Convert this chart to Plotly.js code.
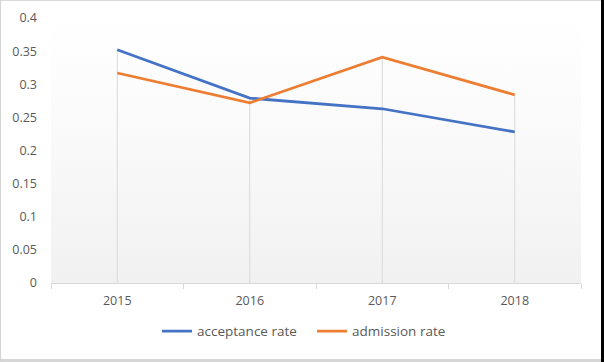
<!DOCTYPE html>
<html><head><meta charset="utf-8">
<script src="https://cdn.plot.ly/plotly-3.0.1.min.js"></script>
<style>
html,body{margin:0;padding:0;background:#fff;}
#wrap{position:relative;width:604px;height:362px;overflow:hidden;}
#grad{position:absolute;left:51px;top:18px;width:530px;height:265px;background:linear-gradient(to bottom,#ffffff 0%,#f9f9f9 50%,#f1f1f1 100%);}
#chart{position:absolute;left:0;top:0;width:604px;height:362px;}
#frame{position:absolute;left:0;top:0;width:600px;height:358px;border-left:1px solid #d4d4d4;border-top:1px solid #d9d9d9;border-right:1px solid #c8c8c8;border-bottom:3px solid #d6d6d6;pointer-events:none;}
#blk{position:absolute;left:601px;top:0;width:3px;height:362px;background:#000;}
</style></head>
<body>
<div id="wrap"><div id="grad"></div><div id="chart"></div><div id="frame"></div><div id="blk"></div></div>
<script>
const years = ['2015','2016','2017','2018'];
const acceptanceRate = [0.352, 0.279, 0.263, 0.228];
const admissionRate = [0.317, 0.272, 0.341, 0.284];
const yTicks = [0,0.05,0.1,0.15,0.2,0.25,0.3,0.35,0.4];
const yTickText = ['0','0.05','0.1','0.15','0.2','0.25','0.3','0.35','0.4'];

// drop lines from the higher point of each category down to the axis
const dx = [], dy = [];
years.forEach((y,i)=>{ dx.push(y,y,null); dy.push(Math.max(acceptanceRate[i],admissionRate[i]),0,null); });

const traces = [
  {x:dx,y:dy,mode:'lines',line:{color:'#d9d9d9',width:1},hoverinfo:'skip',showlegend:false},
  {x:years,y:acceptanceRate,name:'acceptance rate',mode:'lines',line:{color:'#4472C4',width:2.75}},
  {x:years,y:admissionRate,name:'admission rate',mode:'lines',line:{color:'#ED7D31',width:2.75}}
];
const font = {family:'"Open Sans", "Liberation Sans", sans-serif',size:12.5,color:'#595959'};
const lfont = {family:'"Open Sans", "Liberation Sans", sans-serif',size:13.5,color:'#595959'};
const layout = {
  width:604,height:362,
  margin:{l:51,r:23,t:18,b:79,pad:0},
  paper_bgcolor:'rgba(0,0,0,0)',plot_bgcolor:'rgba(0,0,0,0)',
  font:font,
  showlegend:true,
  legend:{orientation:'h',x:0.5166,xanchor:'center',xref:'container',y:0.085,yref:'container',yanchor:'middle',font:lfont,itemwidth:30,entrywidth:110,tracegroupgap:0},
  xaxis:{type:'category',range:[-0.5,3.5],showgrid:false,showline:true,linecolor:'#d9d9d9',linewidth:1,
         ticks:'outside',tickson:'boundaries',ticklen:5,tickcolor:'#d9d9d9',tickfont:font,zeroline:false,fixedrange:true,ticklabelstandoff:6},
  yaxis:{range:[0,0.4],tickvals:yTicks,ticktext:yTickText,showgrid:false,zeroline:false,showline:false,
         ticks:'',tickfont:font,ticklabelstandoff:13,fixedrange:true}
};
Plotly.newPlot('chart',traces,layout,{displayModeBar:false,staticPlot:true});
</script>
</body></html>
